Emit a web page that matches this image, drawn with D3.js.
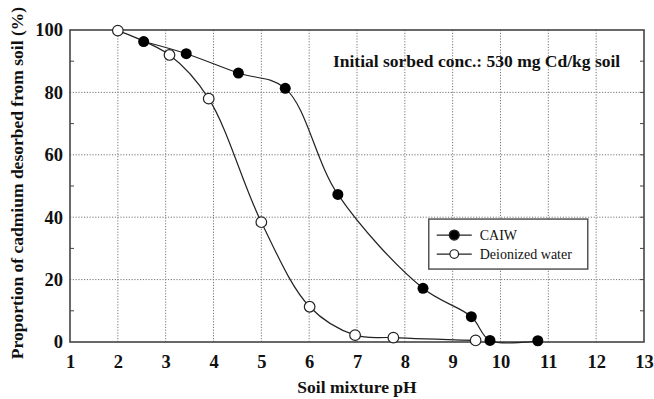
<!DOCTYPE html>
<html>
<head>
<meta charset="utf-8">
<script src="https://cdn.jsdelivr.net/npm/d3@7"></script>
<style>
body{margin:0;background:#fff;}
svg text{font-family:"Liberation Serif","Times New Roman",serif;font-weight:bold;fill:#111;}
</style>
</head>
<body>
<div id="chart"></div>
<script>
// values
const caiwPH   = [2.54, 3.43, 4.52, 5.5, 6.6, 8.38, 9.39, 9.78, 10.78];
const caiwPct  = [96.3, 92.4, 86.2, 81.3, 47.3, 17.2, 8.1, 0.5, 0.4];
const diwPH    = [2.0, 3.08, 3.9, 5.0, 6.01, 6.96, 7.76, 9.48];
const diwPct   = [99.8, 92.0, 78.0, 38.4, 11.3, 2.2, 1.4, 0.5];
const xTicks   = [1,2,3,4,5,6,7,8,9,10,11,12,13];
const yTicks   = [0,20,40,60,80,100];
const yMinor   = [10,30,50,70,90];
const seriesNames = ['CAIW','Deionized water'];

const W = 654, H = 399;
const margin = {l:70, r:10, t:30, b:57};
const w = W - margin.l - margin.r;
const h = H - margin.t - margin.b;

const svg = d3.select('#chart').append('svg')
	.attr('width', W)
	.attr('height', H);

const plot = svg.append('g')
	.attr('transform', `translate(${margin.l},${margin.t})`);

const x = d3.scaleLinear().domain([1,13]).range([0,w]);
const y = d3.scaleLinear().domain([0,100]).range([h,0]);

// dotted grid
plot.append('g').selectAll('line.vg')
	.data(xTicks.slice(1,-1))
	.enter().append('line')
	.attr('x1', d=>x(d)).attr('x2', d=>x(d))
	.attr('y1', 0).attr('y2', h)
	.attr('stroke','#777').attr('stroke-width',1).attr('stroke-dasharray','1.2,1.6');

plot.append('g').selectAll('line.hg')
	.data(yTicks.slice(1,-1))
	.enter().append('line')
	.attr('x1', 0).attr('x2', w)
	.attr('y1', d=>y(d)).attr('y2', d=>y(d))
	.attr('stroke','#777').attr('stroke-width',1).attr('stroke-dasharray','1.2,1.6');

// axes
const xAxis = plot.append('g')
	.attr('transform', `translate(0,${h})`)
	.call(d3.axisBottom(x).tickValues(xTicks).tickSize(0).tickPadding(13));
const yAxis = plot.append('g')
	.call(d3.axisLeft(y).tickValues(yTicks).tickSize(0).tickPadding(7));
[xAxis, yAxis].forEach(a=>{
	a.select('.domain').remove();
	a.selectAll('text').style('font-size','18.5px').attr('fill','#111');
});

// minor ticks, inward on both sides
const mt = plot.append('g');
mt.selectAll('line.l').data(yMinor).enter().append('line')
	.attr('x1',0).attr('x2',4).attr('y1',d=>y(d)).attr('y2',d=>y(d))
	.attr('stroke','#444').attr('stroke-width',1);
mt.selectAll('line.r').data(yMinor.concat(yTicks.slice(1,-1))).enter().append('line')
	.attr('x1',w).attr('x2',w-4).attr('y1',d=>y(d)).attr('y2',d=>y(d))
	.attr('stroke','#444').attr('stroke-width',1);

// frame
plot.append('rect')
	.attr('width', w).attr('height', h)
	.attr('fill','none').attr('stroke','#444').attr('stroke-width',1.6);

// curves
const line = d3.line()
	.x(d=>x(d[0])).y(d=>y(d[1]))
	.curve(d3.curveCatmullRom.alpha(0.5));

const caiw = caiwPH.map((v,i)=>[v, caiwPct[i]]);
const diw = diwPH.map((v,i)=>[v, diwPct[i]]);

[caiw, diw].forEach(s=>{
	plot.append('path').datum(s)
		.attr('d', line)
		.attr('fill','none').attr('stroke','#222').attr('stroke-width',1.2);
});

plot.selectAll('circle.diw').data(diw).enter().append('circle')
	.attr('cx', d=>x(d[0])).attr('cy', d=>y(d[1])).attr('r',5.3)
	.attr('fill','#fff').attr('stroke','#222').attr('stroke-width',1.2);
plot.selectAll('circle.caiw').data(caiw).enter().append('circle')
	.attr('cx', d=>x(d[0])).attr('cy', d=>y(d[1])).attr('r',5.5)
	.attr('fill','#000');

// annotation
plot.append('text')
	.attr('x', x(9.5)).attr('y', y(88.2))
	.attr('text-anchor','middle')
	.style('font-size','17.5px')
	.text('Initial sorbed conc.: 530 mg Cd/kg soil');

// legend
const lg = plot.append('g').attr('transform', `translate(${x(8.5)},${y(39.4)})`);
lg.append('rect').attr('width',159).attr('height',50)
	.attr('fill','#fff').attr('stroke','#555').attr('stroke-width',1.5);
seriesNames.forEach((name,i)=>{
	const g = lg.append('g').attr('transform', `translate(0,${16+i*19})`);
	g.append('line').attr('x1',8).attr('x2',43).attr('y1',0).attr('y2',0)
		.attr('stroke','#222').attr('stroke-width',1.2);
	g.append('circle').attr('cx',25.5).attr('cy',0).attr('r',i===0?5:4.3)
		.attr('fill',i===0?'#000':'#fff').attr('stroke','#222').attr('stroke-width',1.2);
	g.append('text').attr('x',51).attr('y',5)
		.style('font-size','14px').style('font-weight','normal')
		.text(name);
});

// axis titles
svg.append('text')
	.attr('x', margin.l + w/2).attr('y', 393)
	.attr('text-anchor','middle')
	.style('font-size','17.5px')
	.text('Soil mixture pH');

svg.append('text')
	.attr('transform', `translate(23,183) rotate(-90)`)
	.attr('text-anchor','middle')
	.style('font-size','17.5px')
	.text('Proportion of cadmium desorbed from soil (%)');
</script>
</body>
</html>
